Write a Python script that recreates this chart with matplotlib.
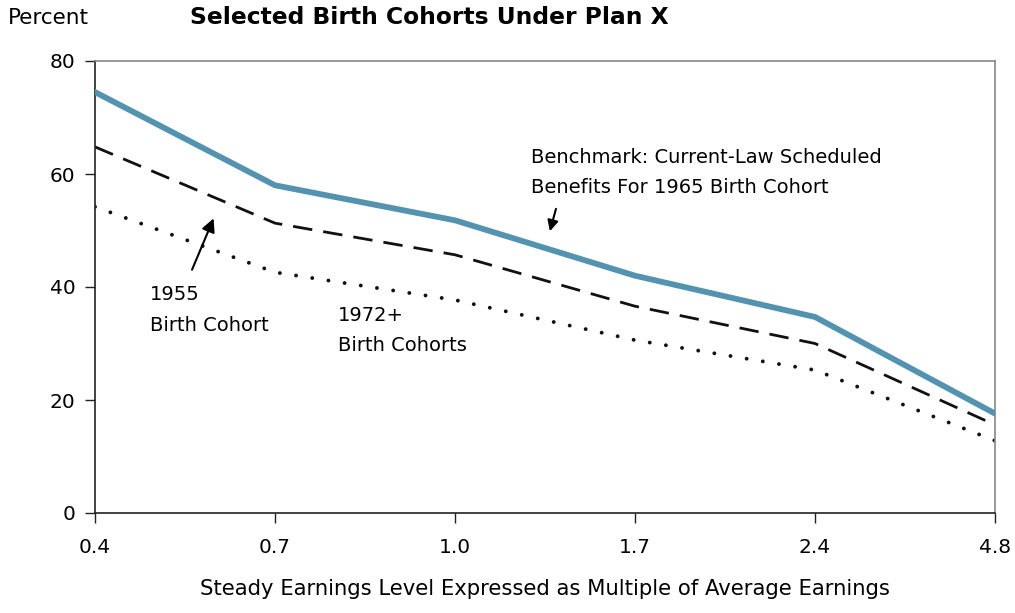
import matplotlib
matplotlib.use("Agg")
import matplotlib.pyplot as plt

categories = ["0.4", "0.7", "1.0", "1.7", "2.4", "4.8"]
benchmark = [74.5, 58.0, 51.8, 42.0, 34.7, 17.6]
cohort_1955 = [64.8, 51.3, 45.7, 36.6, 30.0, 15.6]
cohort_1972 = [54.2, 42.6, 37.7, 30.6, 25.3, 12.8]

plt.rcParams['font.family'] = ['DejaVu Sans']

fig = plt.figure(figsize=(10.15, 6.13), dpi=100)
ax = fig.add_axes([95/1015, 1-513/613, 900/1015, 452/613])

x = list(range(len(categories)))
ax.plot(x, benchmark, color='#5393b0', lw=4.2, solid_joinstyle='miter', zorder=3)
ax.plot(x, cohort_1955, color='#111111', lw=2.0, dashes=(7, 4), zorder=2)
ax.plot(x, cohort_1972, color='#111111', lw=2.8, linestyle=(0, (0.01, 4.2)),
        dash_capstyle='round', zorder=2)

ax.set_xlim(0, 5)
ax.set_ylim(0, 80)
ax.set_xticks(x)
ax.set_xticklabels(categories)
ax.set_yticks([0, 20, 40, 60, 80])
ax.tick_params(axis='both', labelsize=14.5, direction='out', length=7, width=1, color='#222222')
ax.tick_params(axis='x', pad=11)
ax.tick_params(axis='y', pad=7)
for s in ['left', 'bottom']:
    ax.spines[s].set_color('#222222')
    ax.spines[s].set_linewidth(1.2)
for s in ['top', 'right']:
    ax.spines[s].set_color('#888888')
    ax.spines[s].set_linewidth(1.2)

ax.set_xlabel("Steady Earnings Level Expressed as Multiple of Average Earnings", fontsize=15.2, labelpad=16)

fig.text(8/1015, 1-18/613, "Percent", fontsize=15.5, va='center', ha='left')
fig.text(190/1015, 1-18/613, "Selected Birth Cohorts Under Plan X", fontsize=16.8,
         fontweight='bold', va='center', ha='left')

ax.text(0.305, 40.4, "1955\nBirth Cohort", fontsize=14, va='top', ha='left', linespacing=1.8)
ax.annotate("", xy=(0.665, 52.6), xytext=(0.533, 42.6),
            arrowprops=dict(arrowstyle='-|>', color='black', lw=1.5, mutation_scale=20))
ax.text(1.35, 36.6, "1972+\nBirth Cohorts", fontsize=14, va='top', ha='left', linespacing=1.75)
ax.text(2.42, 64.6, "Benchmark: Current-Law Scheduled\nBenefits For 1965 Birth Cohort",
        fontsize=14, va='top', ha='left', linespacing=1.75)
ax.annotate("", xy=(2.523, 49.4), xytext=(2.565, 54.3),
            arrowprops=dict(arrowstyle='-|>', color='black', lw=1.5, mutation_scale=16))

fig.savefig("out.png", dpi=100)
